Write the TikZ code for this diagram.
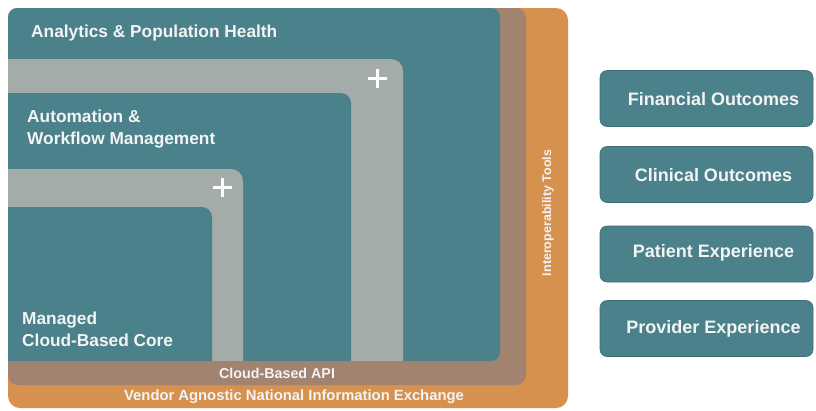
\documentclass[tikz,border=0pt]{standalone}
\usepackage{fontspec}
\setmainfont{Liberation Sans}
\definecolor{teal1}{HTML}{4A818A}
\definecolor{gray1}{HTML}{A4ACA9}
\definecolor{brown1}{HTML}{A1836F}
\definecolor{orange1}{HTML}{D6914F}
\definecolor{txt}{HTML}{F4F4F4}
\begin{document}
\begin{tikzpicture}[x=1pt,y=-1pt,
  bigtxt/.style={text=txt,font=\bfseries\fontsize{17.3}{22}\selectfont,inner sep=0pt,align=left},
  smalltxt/.style={text=txt,font=\bfseries\fontsize{14.3}{16}\selectfont,inner sep=0pt},
  rbox/.style={fill=teal1,draw=teal1!85!black,line width=0.6pt,rounded corners=7pt,minimum width=213pt,minimum height=56pt,inner sep=0pt},
  rtext/.style={text=txt,font=\bfseries\fontsize{18}{20}\selectfont,inner sep=0pt},
  plus/.style={draw=white,line width=3pt}]
\useasboundingbox (0,0) rectangle (816,410);
\fill[white] (0,0) rectangle (816,410);
% layers
\fill[orange1,rounded corners=12pt] (8,8) rectangle (568,408);
\fill[brown1,rounded corners=10pt] (8,8) rectangle (526,385);
\fill[teal1,rounded corners=9pt] (8,8) rectangle (500,361);
\fill[gray1] (8,361) -- (8,59) -- (391,59) arc[start angle=90,end angle=0,radius=12pt] -- (403,361) -- cycle;
\fill[teal1] (8,361) -- (8,93) -- (341,93) arc[start angle=90,end angle=0,radius=10pt] -- (351,361) -- cycle;
\fill[gray1] (8,361) -- (8,169) -- (231,169) arc[start angle=90,end angle=0,radius=12pt] -- (243,361) -- cycle;
\fill[teal1] (8,361) -- (8,207) -- (202,207) arc[start angle=90,end angle=0,radius=10pt] -- (212,361) -- cycle;
% plus signs
\coordinate (p1) at (377,78);
\coordinate (p2) at (222,187);
\draw[plus] ([xshift=-9.5pt]p1) -- ([xshift=9.5pt]p1);
\draw[plus] ([yshift=-9.5pt]p1) -- ([yshift=9.5pt]p1);
\draw[plus] ([xshift=-9.5pt]p2) -- ([xshift=9.5pt]p2);
\draw[plus] ([yshift=-9.5pt]p2) -- ([yshift=9.5pt]p2);
% labels
\node[bigtxt,anchor=west] (ana) at (31,33) {Analytics \& Population Health};
\node[bigtxt,anchor=west] (aut) at (27,129) {Automation \&\\Workflow Management};
\node[bigtxt,anchor=west] (man) at (22,329) {Managed\\Cloud-Based Core};
\node[smalltxt] (api) at (277,373) {Cloud-Based API};
\node[smalltxt,font=\bfseries\fontsize{14.8}{16}\selectfont] (van) at (294,397) {Vendor Agnostic National Information Exchange};
\node[text=txt,font=\bfseries\fontsize{12.5}{14}\selectfont,inner sep=0pt,rotate=90] (iop) at (548,213) {Interoperability Tools};
% right boxes
\node[rbox] (fin) at (706.5,98.5) {};
\node[rbox] (cli) at (706.5,174.5) {};
\node[rbox] (pat) at (706.5,254) {};
\node[rbox] (pro) at (706.5,328.5) {};
\node[rtext] at ([xshift=7pt,yshift=-1pt]fin.center) {Financial Outcomes};
\node[rtext] at ([xshift=7pt,yshift=-1pt]cli.center) {Clinical Outcomes};
\node[rtext] at ([xshift=7pt,yshift=1pt]pat.center) {Patient Experience};
\node[rtext] at ([xshift=7pt,yshift=0pt]pro.center) {Provider Experience};
\end{tikzpicture}
\end{document}
